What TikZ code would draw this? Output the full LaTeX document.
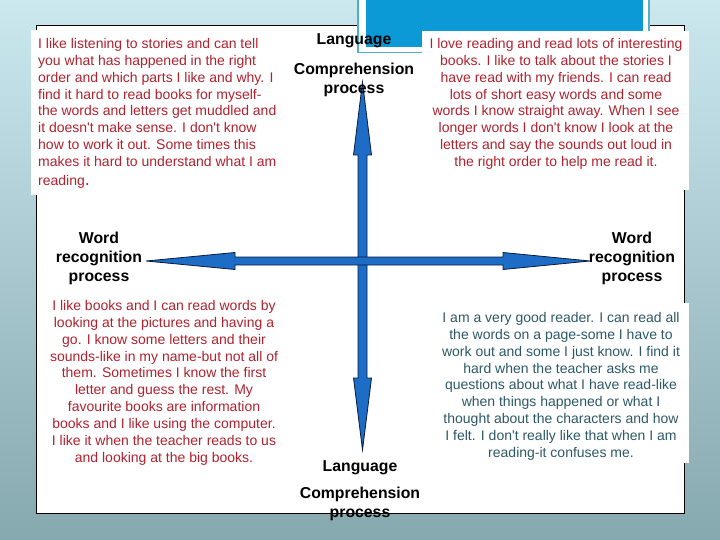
\documentclass[tikz,border=0pt]{standalone}
\usepackage{fontspec}
\setmainfont{Liberation Sans}[Ligatures=TeXOff]
\usetikzlibrary{calc}
\definecolor{bgtop}{HTML}{CBE8EF}
\definecolor{bgbot}{HTML}{86A8AF}
\definecolor{topblue}{HTML}{0B9AD5}
\definecolor{boxedge}{HTML}{4FAFCB}
\definecolor{arrowfill}{HTML}{1D6CC6}
\definecolor{arrowline}{HTML}{0B1B3C}
\definecolor{redtxt}{HTML}{B0222E}
\definecolor{tealtxt}{HTML}{2D5966}
\begin{document}
\begin{tikzpicture}[x=1pt,y=-1pt,
  lbl/.style={font=\fontsize{15.8}{19}\selectfont\bfseries, align=center, inner sep=0pt, text=black, anchor=north},
  story/.style={font=\fontsize{14}{16.9}\selectfont, inner sep=0pt, anchor=north},
  axisarrow/.style={fill=arrowfill, draw=arrowline, line width=0.8pt, line join=miter}]
\useasboundingbox (0,0) rectangle (720,540);
\shade[top color=bgtop, bottom color=bgbot] (0,0) rectangle (720,540);
% panel
\draw[fill=white, line width=1pt] (36,26) rectangle (684,513);
% decorative blue box at top
\draw[draw=boxedge, fill=white, line width=1.5pt] (358,-3) rectangle (649,52.5);
\fill[topblue] (366,-3) rectangle (643,47.5);
% white text boxes
\fill[white] (31,30) rectangle (285,195);
\fill[white] (422,31) rectangle (689,190);
\fill[white] (432,303) rectangle (689,463);

% axis end points
\coordinate (vT) at (362.5,82);
\coordinate (vB) at (362.5,450);
\coordinate (hL) at (146,261);
\coordinate (hR) at (590,261);

% vertical double arrow
\path[axisarrow] (vT) -- ($(vT)+(9,73)$) -- ($(vT)+(4.5,73)$) -- ($(vB)+(4.5,-72)$)
  -- ($(vB)+(9,-72)$) -- (vB) -- ($(vB)+(-9,-72)$) -- ($(vB)+(-4.5,-72)$)
  -- ($(vT)+(-4.5,73)$) -- ($(vT)+(-9,73)$) -- cycle;
% horizontal double arrow
\path[axisarrow] (hL) -- ($(hL)+(89,-8.5)$) -- ($(hL)+(89,-4)$) -- ($(hR)+(-87,-4)$)
  -- ($(hR)+(-87,-8.5)$) -- (hR) -- ($(hR)+(-87,8.5)$) -- ($(hR)+(-87,4)$)
  -- ($(hL)+(89,4)$) -- ($(hL)+(89,8.5)$) -- cycle;

% labels
\node[lbl] (langT) at (354,33) {Language};
\node[lbl] (compT) at (354,63) {Comprehension\\process};
\node[lbl] (wl) at (99,232) {Word\\recognition\\process};
\node[lbl] (wr) at (632,232) {Word\\recognition\\process};
\node[lbl] (langB) at (360,460) {Language};
\node[lbl] (compB) at (360,487) {Comprehension\\process};

% stories
\node[story, anchor=north west, align=left, text=redtxt] (tl) at (38,38)
 {I like listening to stories and can tell\\
  you what has happened in the right\\
  order and which parts I like and why. I\\
  find it hard to read books for myself-\\
  the words and letters get muddled and\\
  it doesn't make sense. I don't know\\
  how to work it out. Some times this\\
  makes it hard to understand what I am\\[2pt]
  reading{\fontsize{18}{20}\selectfont .}};
\node[story, align=center, text=redtxt] (tr) at (556,38)
 {I love reading and read lots of interesting\\
  books. I like to talk about the stories I\\
  have read with my friends. I can read\\
  lots of short easy words and some\\
  words I know straight away. When I see\\
  longer words I don't know I look at the\\
  letters and say the sounds out loud in\\
  the right order to help me read it.};
\node[story, align=center, text=redtxt] (bl) at (164,300)
 {I like books and I can read words by\\
  looking at the pictures and having a\\
  go. I know some letters and their\\
  sounds-like in my name-but not all of\\
  them. Sometimes I know the first\\
  letter and guess the rest. My\\
  favourite books are information\\
  books and I like using the computer.\\
  I like it when the teacher reads to us\\
  and looking at the big books.};
\node[story, align=center, text=tealtxt] (br) at (561,312)
 {I am a very good reader. I can read all\\
  the words on a page-some I have to\\
  work out and some I just know. I find it\\
  hard when the teacher asks me\\
  questions about what I have read-like\\
  when things happened or what I\\
  thought about the characters and how\\
  I felt. I don't really like that when I am\\
  reading-it confuses me.};
\end{tikzpicture}
\end{document}
